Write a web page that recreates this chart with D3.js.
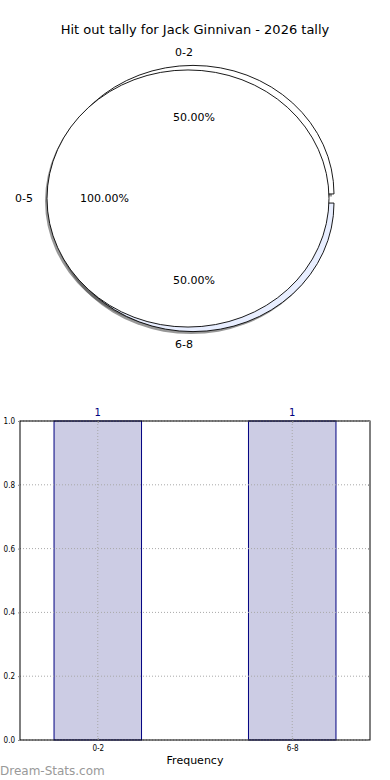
<!DOCTYPE html>
<html lang="en">
<head>
<meta charset="utf-8">
<title>Hit out tally</title>
<style>
  body { margin: 0; background: #fff; }
  svg { display: block; font-family: 'DejaVu Sans', sans-serif; }
  .grid line { stroke: #a8a8a8; stroke-dasharray: 1 2; }
  text { fill: #000; }
</style>
</head>
<body>
<svg width="390" height="780"></svg>
<script src="https://d3js.org/d3.v7.min.js"></script>
<script>
// pie data (drawing order as in the source image)
var pieLabels = ['0-5', '0-2', '6-8'];
var piePct = [100, 50, 50];
var pieColors = ['#ffffff', '#ffffff', '#e8eeff'];

// bar data
var barCats = ['0-2', '6-8'];
var barVals = [1, 1];
var yTicks = [0, 0.2, 0.4, 0.6, 0.8, 1.0];

var title = 'Hit out tally for Jack Ginnivan - 2026 tally';

var svg = d3.select('svg');

svg.append('text')
  .attr('x', 195).attr('y', 34)
  .attr('text-anchor', 'middle')
  .style('font-size', '13px')
  .text(title);

// ---- pie ----
var cx = 193, cy = 198.5, r = 141, ky = 128.5 / 141, explode = 5;

// matplotlib style: angles counter-clockwise from east, cumulative fractions
var wedges = [];
var acc = 0;
pieLabels.forEach(function (l, i) {
  var a0 = acc * 2 * Math.PI;
  acc += piePct[i] / 100;
  var a1 = acc * 2 * Math.PI;
  wedges.push({ label: l, pct: piePct[i], a0: a0, a1: a1, mid: (a0 + a1) / 2, color: pieColors[i] });
});

var arc = d3.arc().innerRadius(0).outerRadius(r);
function d3arc(w) {
  // convert ccw-from-east to d3 (cw-from-north)
  return arc({ startAngle: Math.PI / 2 - w.a1, endAngle: Math.PI / 2 - w.a0 });
}
function center(w) {
  return [cx + explode * Math.cos(w.mid), cy - explode * Math.sin(w.mid) * ky];
}

var pie = svg.append('g');

// shadows
wedges.forEach(function (w) {
  var c = center(w);
  pie.append('path')
    .attr('d', d3arc(w))
    .attr('transform', 'translate(' + (c[0] - 2) + ',' + (c[1] + 2.5) + ') scale(1,' + ky + ')')
    .attr('fill', '#444')
    .attr('opacity', 0.55);
});

// wedges: the full one is drawn last
var order = wedges.slice(1).concat([wedges[0]]);
order.forEach(function (w) {
  var c = center(w);
  pie.append('path')
    .attr('d', d3arc(w))
    .attr('transform', 'translate(' + c[0] + ',' + c[1] + ') scale(1,' + ky + ')')
    .attr('fill', w.color)
    .attr('stroke', '#000')
    .attr('stroke-width', 0.9)
    .attr('vector-effect', 'non-scaling-stroke');
});

wedges.forEach(function (w) {
  var c = center(w);
  var cs = Math.cos(w.mid), sn = Math.sin(w.mid);
  if (Math.abs(cs) < 1e-9) cs = (w.mid < Math.PI * 2.25 ? 1e-9 : -1e-9);
  pie.append('text')
    .attr('x', c[0] + 1.1 * r * cs + (cs > 0 ? 2 : 0))
    .attr('y', c[1] - 1.1 * r * ky * sn)
    .attr('dy', '0.35em')
    .attr('text-anchor', cs > 0 ? 'start' : 'end')
    .style('font-size', '11px')
    .text(w.label);
  pie.append('text')
    .attr('x', c[0] + 0.6 * r * cs + 1)
    .attr('y', c[1] - 0.6 * r * ky * sn)
    .attr('dy', '0.35em')
    .attr('text-anchor', 'middle')
    .style('font-size', '11px')
    .text(w.pct.toFixed(2) + '%');
});

// ---- bars ----
var pl = 20, pr = 370, pt = 421, pb = 740;
var x = d3.scaleLinear().domain([-0.4, 1.4]).range([pl, pr]);
var y = d3.scaleLinear().domain([0, 1]).range([pb, pt]);
var barW = 0.45;

var chart = svg.append('g');

chart.selectAll('rect.bar')
  .data(barCats)
  .enter().append('rect')
  .attr('class', 'bar')
  .attr('x', function (d, i) { return x(i - barW / 2); })
  .attr('y', function (d, i) { return y(barVals[i]); })
  .attr('width', function () { return x(barW) - x(0); })
  .attr('height', function (d, i) { return y(0) - y(barVals[i]); })
  .attr('fill', '#cccce4')
  .attr('stroke', '#000080')
  .attr('stroke-width', 1);

// grid
var grid = chart.append('g').attr('class', 'grid');
grid.selectAll('line.h')
  .data(yTicks)
  .enter().append('line')
  .attr('x1', pl).attr('x2', pr)
  .attr('y1', function (d) { return y(d); })
  .attr('y2', function (d) { return y(d); });
grid.selectAll('line.v')
  .data(barCats)
  .enter().append('line')
  .attr('x1', function (d, i) { return x(i); })
  .attr('x2', function (d, i) { return x(i); })
  .attr('y1', pt).attr('y2', pb);

// frame
chart.append('rect')
  .attr('x', pl).attr('y', pt)
  .attr('width', pr - pl).attr('height', pb - pt)
  .attr('fill', 'none').attr('stroke', '#000').attr('stroke-width', 1);

// y axis
var yAxis = chart.append('g')
  .attr('transform', 'translate(' + pl + ',0)')
  .call(d3.axisLeft(y).tickValues(yTicks).tickFormat(d3.format('.1f')).tickSize(2).tickPadding(3));
yAxis.select('.domain').remove();
yAxis.selectAll('line').attr('stroke', '#888');
yAxis.selectAll('text').style('font-size', '8px').style('font-family', 'DejaVu Sans Condensed, DejaVu Sans, sans-serif');

chart.append('g')
  .attr('transform', 'translate(' + pr + ',0)')
  .call(d3.axisLeft(y).tickValues(yTicks).tickFormat('').tickSize(2))
  .call(function (g) { g.select('.domain').remove(); g.selectAll('line').attr('stroke', '#888'); });

// x axis
var xAxis = chart.append('g')
  .attr('transform', 'translate(0,' + pb + ')')
  .call(d3.axisBottom(x).tickValues([0, 1]).tickFormat(function (d) { return barCats[d]; }).tickSize(-2).tickPadding(5));
xAxis.select('.domain').remove();
xAxis.selectAll('line').attr('stroke', '#888');
xAxis.selectAll('text').style('font-size', '8px').style('font-family', 'DejaVu Sans Condensed, DejaVu Sans, sans-serif');

chart.append('g')
  .attr('transform', 'translate(0,' + pt + ')')
  .call(d3.axisBottom(x).tickValues([0, 1]).tickFormat('').tickSize(2))
  .call(function (g) { g.select('.domain').remove(); g.selectAll('line').attr('stroke', '#888'); });

// value labels
chart.selectAll('text.val')
  .data(barCats)
  .enter().append('text')
  .attr('class', 'val')
  .attr('x', function (d, i) { return x(i); })
  .attr('y', function (d, i) { return y(barVals[i]) - 5; })
  .attr('text-anchor', 'middle')
  .style('font-size', '10px')
  .style('fill', '#000080')
  .text(function (d, i) { return barVals[i]; });

chart.append('text')
  .attr('x', 195).attr('y', 764)
  .attr('text-anchor', 'middle')
  .style('font-size', '11px')
  .text('Frequency');

svg.append('text')
  .attr('x', 0).attr('y', 775)
  .style('font-size', '12px')
  .style('fill', '#999')
  .text('Dream-Stats.com');
</script>
</body>
</html>
